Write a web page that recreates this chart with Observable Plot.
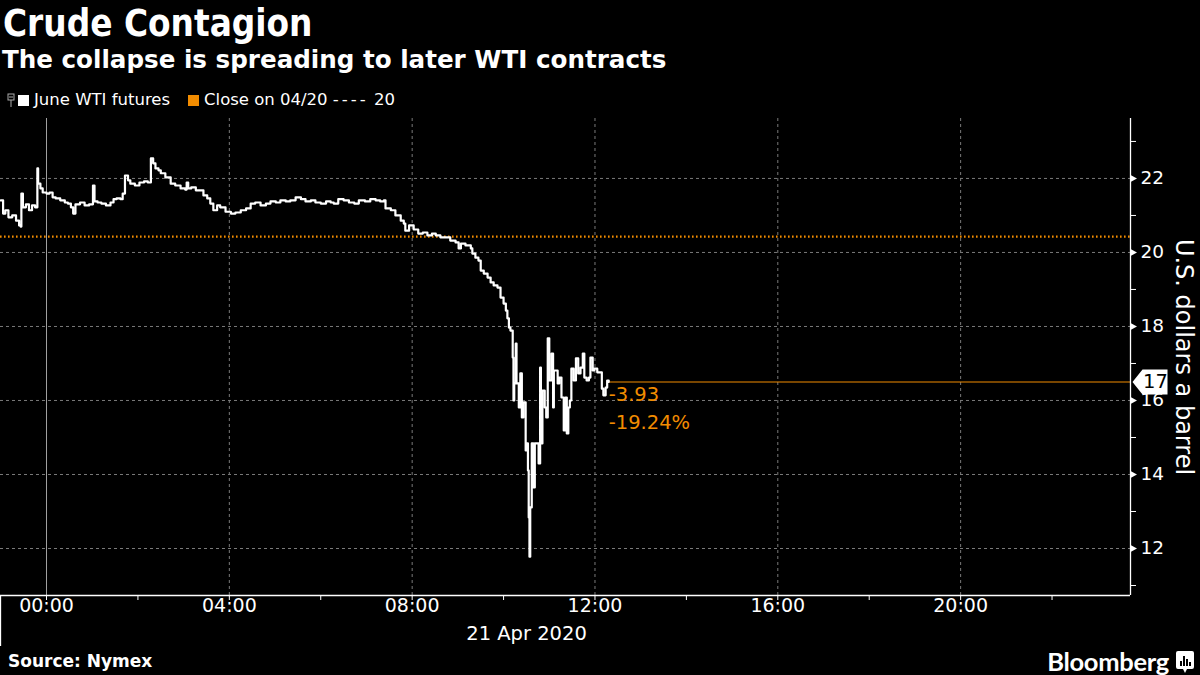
<!DOCTYPE html>
<html>
<head>
<meta charset="utf-8">
<script src="https://cdn.jsdelivr.net/npm/d3@7"></script>
<script src="https://cdn.jsdelivr.net/npm/@observablehq/plot@0.6"></script>
<style>
  html, body { margin: 0; padding: 0; background: #000; }
  body { width: 1200px; height: 675px; overflow: hidden; position: relative; color: #fff;
         font-family: "DejaVu Sans", sans-serif; }
  #header { position: relative; height: 110px; }
  .title { position: absolute; left: 3px; top: 2px; font-family: "DejaVu Sans Condensed", "DejaVu Sans", sans-serif; font-stretch: condensed; font-size: 36.5px; font-weight: bold; line-height: 44px; }
  .subtitle { position: absolute; left: 2px; top: 45px; font-size: 24.6px; font-weight: bold; line-height: 30px; }
  .legend { position: absolute; left: 6px; top: 90px; font-size: 16.5px; line-height: 20px; display: flex; align-items: center; }
  .legend .sw { display: inline-block; width: 11px; height: 11px; margin-right: 5px; }
  .legend .item { display: flex; align-items: center; margin-right: 18px; }
  .legend .dash { letter-spacing: 3px; }
  #chart { position: absolute; left: 0; top: 110px; }
  #footer { position: absolute; left: 0; top: 650px; width: 1200px; height: 25px; }
  .source { position: absolute; left: 8px; top: 1px; font-size: 17px; font-weight: bold; }
  .brand { position: absolute; right: 31px; top: -4px; font-family: Lato, "Open Sans", sans-serif; font-size: 25.5px; font-weight: bold; letter-spacing: -0.3px; }
  .logo { position: absolute; right: 5px; top: 0px; }
</style>
</head>
<body>
<div id="header">
  <div class="title">Crude Contagion</div>
  <div class="subtitle">The collapse is spreading to later WTI contracts</div>
  <div class="legend">
    <div class="item">
      <svg width="10" height="16" style="margin-right:2px"><rect x="2" y="2" width="6" height="6" fill="none" stroke="#aaa" stroke-width="1"/><line x1="5" y1="8" x2="5" y2="15" stroke="#aaa"/><line x1="3" y1="5" x2="7" y2="5" stroke="#aaa"/></svg>
      <span class="sw" style="background:#fff"></span><span>June WTI futures</span>
    </div>
    <div class="item">
      <span class="sw" style="background:#f28c00"></span><span>Close on 04/20 <span class="dash">----</span> 20</span>
    </div>
  </div>
</div>
<div id="chart"></div>
<div id="footer">
  <div class="source">Source: Nymex</div>
  <div class="brand">Bloomberg</div>
  <svg class="logo" width="20" height="24" viewBox="0 0 20 24">
    <path d="M3 1 H17 Q19 1 19 3 V17 Q19 19 17 19 H12 L10 23 L8 19 H3 Q1 19 1 17 V3 Q1 1 3 1 Z" fill="#fff"/>
    <rect x="5" y="11" width="2" height="5" fill="#000"/>
    <rect x="8" y="6" width="2" height="10" fill="#000"/>
    <rect x="11" y="9" width="2" height="7" fill="#000"/>
    <rect x="14" y="12" width="2" height="4" fill="#000"/>
  </svg>
</div>
<script>
// ---- Data (minutes relative to 21 Apr 2020 00:00, negative = 20 Apr) ----
const minutes = [
  -60,-57,-54,-50,-45,-40,-36,-34,-33,-31,-27,-23,-19,-15,-12,-11,-8,-5,
  0,4,8,12,18,24,28,32,35,38,44,50,56,61,63,67,72,78,84,88,92,97,100,103,107,110,116,122,128,133,
  137,140,143,147,150,156,163,169,176,182,184,186,190,196,202,206,211,215,219,224,228,235,242,248,
  255,262,268,274,281,288,294,301,307,314,320,327,334,340,347,353,360,367,373,377,383,390,397,404,
  410,418,425,432,438,443,445,452,458,465,469,471,476,482,488,494,500,506,511,517,524,530,537,541,
  544,550,557,559,563,567,570,574,579,583,587,592,596,600,603,605,607,609,612,613,614,616,617,620,
  622,624,626,629,631,632,633,634,635,637,639,641,643,646,648,649,651,654,656,658,660,663,665,666,
  668,671,673,676,679,681,683,685,687,689,692,695,698,701,704,706,709,712,714,717,719,723,726,729,
  731,734,736,738
];
const prices = [
  21.41,21.05,21.14,20.95,21.00,20.86,20.73,20.70,21.59,21.22,21.30,21.14,21.27,21.22,22.27,21.86,21.73,21.62,
  21.59,21.62,21.49,21.46,21.41,21.35,21.32,21.22,21.05,21.30,21.35,21.27,21.30,21.81,21.38,21.35,21.32,21.27,21.35,21.44,21.46,21.44,21.59,22.08,21.95,21.86,21.81,21.89,21.92,21.89,
  22.54,22.41,22.27,22.22,22.14,22.03,21.86,21.81,21.73,21.70,21.89,21.73,21.76,21.68,21.68,21.54,21.46,21.32,21.14,21.27,21.22,21.10,21.05,21.08,
  21.14,21.19,21.32,21.35,21.27,21.32,21.38,21.35,21.41,21.38,21.41,21.49,21.44,21.38,21.41,21.35,21.32,21.38,21.35,21.32,21.44,21.41,21.35,21.32,
  21.41,21.38,21.44,21.41,21.38,21.41,21.19,21.14,21.00,20.86,20.78,20.59,20.73,20.62,20.51,20.54,20.46,20.51,20.46,20.41,20.41,20.32,20.27,20.11,
  20.24,20.19,20.11,19.97,19.86,19.78,19.51,19.43,19.32,19.19,19.11,19.05,18.78,18.62,18.43,18.22,17.97,17.89,17.16,16.00,16.46,17.54,16.46,15.81,
  16.73,15.54,15.95,14.65,14.84,14.11,12.84,11.78,13.11,14.84,13.65,14.84,14.84,14.30,16.89,14.84,16.27,15.81,15.54,17.68,16.54,17.27,15.81,16.81,
  16.81,16.46,16.62,16.08,15.19,16.08,15.11,15.81,16.00,16.86,16.54,17.14,16.73,16.89,17.27,16.62,16.54,16.62,17.16,16.81,16.86,16.76,16.76,16.32,
  16.14,16.35,16.54,16.50
];
const previousClose = 20.43;
const yMajorTicks = [12, 14, 16, 18, 20, 22];
const yMinorTicks = [11, 13, 15, 17, 19, 21, 23];
const hourLabelTicks = [0, 4, 8, 12, 16, 20];
const hourMinorTicks = [0, 2, 4, 6, 8, 10, 12, 14, 16, 18, 20, 22];
const dateLabel = "21 Apr 2020";
const unitLabel = "U.S. dollars a barrel";

// ---- Build ----
const ORANGE = "#f28c00";
const GRID = "#7a7a7a";
const day0 = Date.UTC(2020, 3, 21);
const toDate = m => new Date(day0 + m * 60000);
const data = minutes.map((m, i) => ({date: toDate(m), price: prices[i]}));
const lastPt = data[data.length - 1];
const change = lastPt.price - previousClose;
const pct = change / previousClose * 100;
const hy = s => s.replace("\u2212", "-");

const xStart = toDate(-60.4), xEnd = toDate(1423);
const yMin = 10.73, yMax = 23.62;

const arrowSym = { draw(ctx) { ctx.moveTo(0, -3.5); ctx.lineTo(6.5, 0); ctx.lineTo(0, 3.5); ctx.closePath(); } };
const tagSym = { draw(ctx) { ctx.moveTo(2, 0); ctx.lineTo(12, -12.5); ctx.lineTo(37, -12.5); ctx.lineTo(37, 12.5); ctx.lineTo(12, 12.5); ctx.closePath(); } };

const fontFam = '"DejaVu Sans", sans-serif';

const chart = Plot.plot({
  width: 1200,
  height: 540,
  marginLeft: 0,
  marginRight: 70,
  marginTop: 8,
  marginBottom: 55,
  style: {background: "#000", color: "#fff", fontFamily: fontFam, fontSize: "18px"},
  x: {type: "utc", domain: [xStart, xEnd], label: null},
  y: {domain: [yMin, yMax], label: null},
  marks: [
    Plot.ruleY(yMajorTicks, {stroke: GRID, strokeDasharray: "3,3", strokeWidth: 1}),
    Plot.ruleX(hourLabelTicks.filter(h => h > 0).map(h => toDate(h * 60)), {stroke: GRID, strokeDasharray: "3,3", strokeWidth: 1}),
    Plot.ruleX([toDate(0)], {stroke: "#a0a0a0", strokeWidth: 1}),
    Plot.ruleY([previousClose], {stroke: ORANGE, strokeWidth: 2.2, strokeDasharray: "1.6,2.4"}),
    Plot.ruleY([lastPt], {y: "price", x1: "date", x2: () => xEnd, stroke: ORANGE, strokeWidth: 1.2}),
    Plot.line(data, {x: "date", y: "price", stroke: "#fff", strokeWidth: 2.2, curve: "step-after"}),
    Plot.text([lastPt], {x: "date", y: "price", text: () => hy(d3.format(".2f")(change)), fill: ORANGE, textAnchor: "start", dx: 0, dy: 13, fontSize: 19.5}),
    Plot.text([lastPt], {x: "date", y: "price", text: () => hy(d3.format(".2f")(pct)) + "%", fill: ORANGE, textAnchor: "start", dx: 0, dy: 41, fontSize: 19.5}),
    // axes frame
    Plot.ruleX([xEnd], {stroke: "#fff", strokeWidth: 1.3}),
    Plot.ruleY([yMin], {stroke: "#fff", strokeWidth: 1.3}),
    Plot.ruleX([xStart], {y1: yMin, y2: yMin, insetBottom: -51, stroke: "#fff", strokeWidth: 1.3}),
    // right axis
    Plot.axisY(yMinorTicks, {anchor: "right", tickSize: 5, tickFormat: () => "", stroke: "#fff"}),
    Plot.dot(yMajorTicks, {x: () => xEnd, y: d => d, symbol: arrowSym, fill: "#fff", r: 3}),
    Plot.axisY(yMajorTicks, {anchor: "right", tickSize: 0, tickPadding: 10, fontSize: 18.5, fill: "#fff"}),
    Plot.text([unitLabel], {frameAnchor: "right", textAnchor: "middle", dx: 53, rotate: 90, fontSize: 24, fill: "#fff"}),
    // last value tag
    Plot.dot([lastPt], {x: () => xEnd, y: "price", symbol: tagSym, fill: "#fff", r: 3}),
    Plot.text([lastPt], {x: () => xEnd, y: "price", text: d => String(Math.round(d.price)), fill: "#000", dx: 25, fontSize: 19.5}),
    // bottom axis
    Plot.axisX(hourMinorTicks.map(h => toDate(h * 60)), {tickSize: 5, tickFormat: () => "", stroke: "#fff"}),
    Plot.axisX(hourLabelTicks.map(h => toDate(h * 60)), {tickSize: 0, tickPadding: 3, tickFormat: d3.utcFormat("%H:%M"), fontSize: 19, fill: "#fff"}),
    Plot.text([dateLabel], {frameAnchor: "bottom", dx: -39, dy: 44, fontSize: 19.5, fill: "#fff"})
  ]
});
document.getElementById("chart").appendChild(chart);
</script>
</body>
</html>
